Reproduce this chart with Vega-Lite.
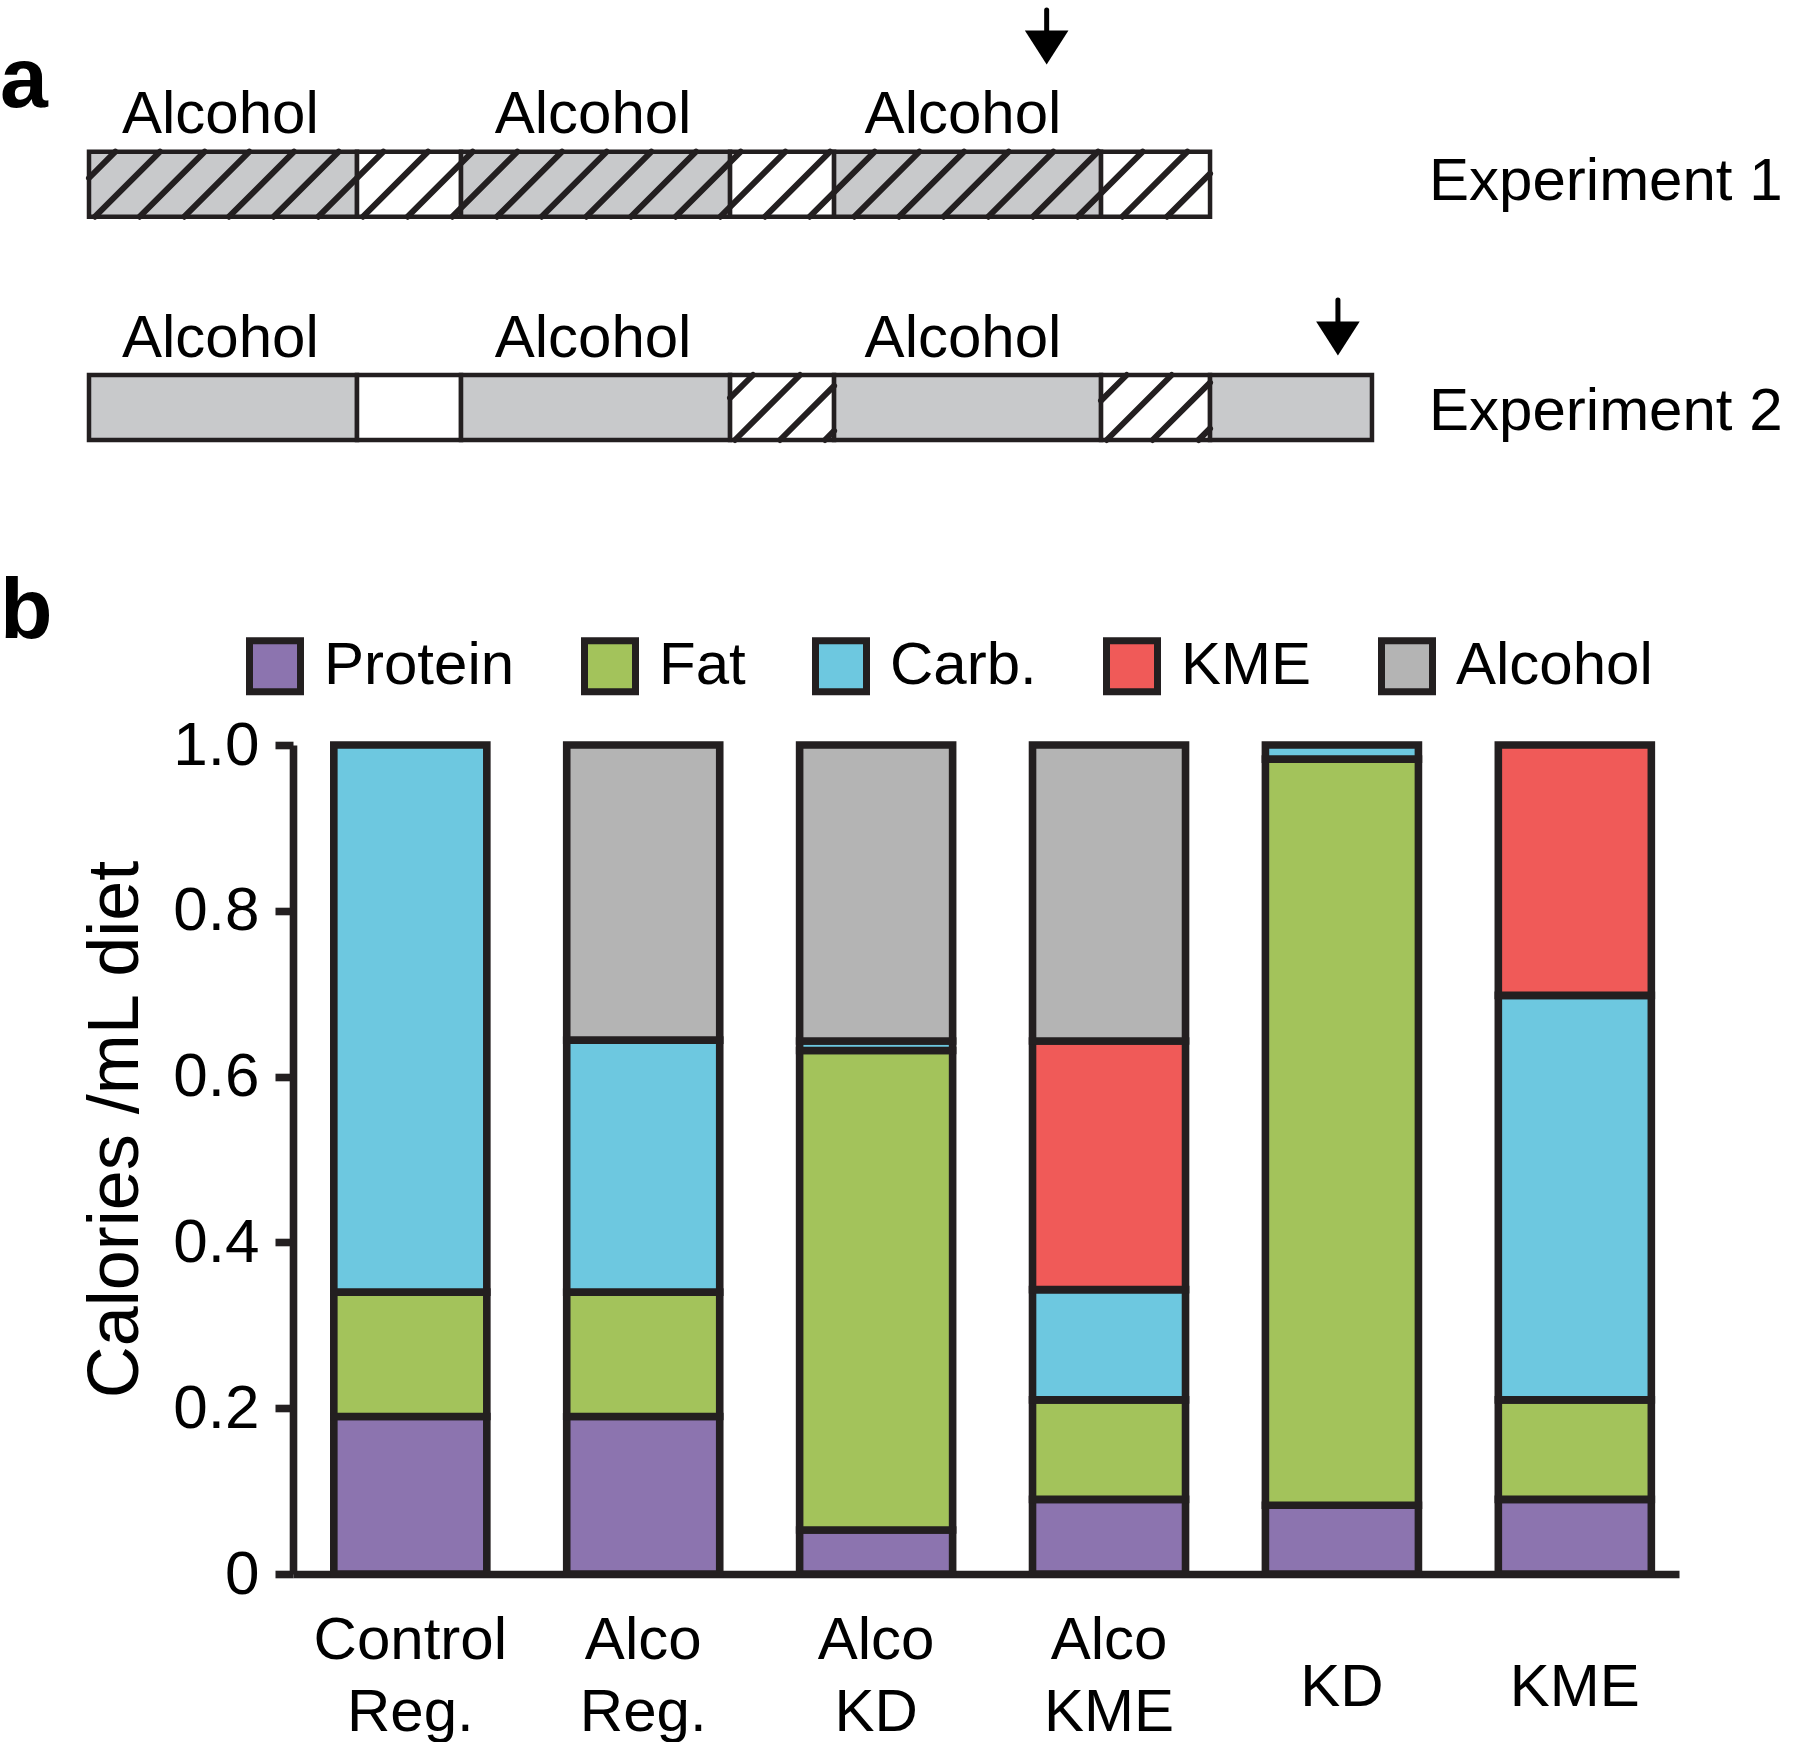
{
  "$schema": "https://vega.github.io/schema/vega-lite/v6.json",
  "padding": {"left": 0, "top": 0, "right": 0, "bottom": 0},
  "background": "white",
  "bounds": "flush",
  "spacing": 45,
  "resolve": {"scale": {"color": "independent"}, "legend": {"color": "independent"}},
  "config": {
    "font": "Liberation Sans",
    "view": {"stroke": null},
    "axis": {"labelFont": "Liberation Sans", "titleFont": "Liberation Sans"},
    "legend": {"labelFont": "Liberation Sans"},
    "text": {"font": "Liberation Sans"}
  },
  "datasets": {
    "segments": [
      {"exp": "Experiment 1", "phase": "alcohol", "start": 0, "end": 12.91, "lane_top": 1.517, "lane_bottom": 2.167},
      {"exp": "Experiment 1", "phase": "abstinence", "start": 12.91, "end": 17.92, "lane_top": 1.517, "lane_bottom": 2.167},
      {"exp": "Experiment 1", "phase": "alcohol", "start": 17.92, "end": 30.88, "lane_top": 1.517, "lane_bottom": 2.167},
      {"exp": "Experiment 1", "phase": "abstinence", "start": 30.88, "end": 35.89, "lane_top": 1.517, "lane_bottom": 2.167},
      {"exp": "Experiment 1", "phase": "alcohol", "start": 35.89, "end": 48.75, "lane_top": 1.517, "lane_bottom": 2.167},
      {"exp": "Experiment 1", "phase": "abstinence", "start": 48.75, "end": 54.0, "lane_top": 1.517, "lane_bottom": 2.167},
      {"exp": "Experiment 2", "phase": "alcohol", "start": 0, "end": 12.91, "lane_top": 3.75, "lane_bottom": 4.4},
      {"exp": "Experiment 2", "phase": "abstinence", "start": 12.91, "end": 17.92, "lane_top": 3.75, "lane_bottom": 4.4},
      {"exp": "Experiment 2", "phase": "alcohol", "start": 17.92, "end": 30.88, "lane_top": 3.75, "lane_bottom": 4.4},
      {"exp": "Experiment 2", "phase": "abstinence", "start": 30.88, "end": 35.89, "lane_top": 3.75, "lane_bottom": 4.4},
      {"exp": "Experiment 2", "phase": "alcohol", "start": 35.89, "end": 48.75, "lane_top": 3.75, "lane_bottom": 4.4},
      {"exp": "Experiment 2", "phase": "abstinence", "start": 48.75, "end": 54.0, "lane_top": 3.75, "lane_bottom": 4.4},
      {"exp": "Experiment 2", "phase": "alcohol", "start": 54.0, "end": 61.8, "lane_top": 3.75, "lane_bottom": 4.4}
    ],
    "hatch": [
      {"d0": 0, "l0": 1.78, "d1": 1.268, "l1": 1.517},
      {"d0": 0.289, "l0": 2.167, "d1": 3.42, "l1": 1.517},
      {"d0": 2.441, "l0": 2.167, "d1": 5.572, "l1": 1.517},
      {"d0": 4.592, "l0": 2.167, "d1": 7.723, "l1": 1.517},
      {"d0": 6.744, "l0": 2.167, "d1": 9.875, "l1": 1.517},
      {"d0": 8.896, "l0": 2.167, "d1": 12.027, "l1": 1.517},
      {"d0": 11.048, "l0": 2.167, "d1": 14.179, "l1": 1.517},
      {"d0": 13.199, "l0": 2.167, "d1": 16.33, "l1": 1.517},
      {"d0": 15.351, "l0": 2.167, "d1": 18.482, "l1": 1.517},
      {"d0": 17.503, "l0": 2.167, "d1": 20.634, "l1": 1.517},
      {"d0": 19.654, "l0": 2.167, "d1": 22.785, "l1": 1.517},
      {"d0": 21.806, "l0": 2.167, "d1": 24.937, "l1": 1.517},
      {"d0": 23.958, "l0": 2.167, "d1": 27.089, "l1": 1.517},
      {"d0": 26.109, "l0": 2.167, "d1": 29.24, "l1": 1.517},
      {"d0": 28.261, "l0": 2.167, "d1": 31.392, "l1": 1.517},
      {"d0": 30.413, "l0": 2.167, "d1": 33.544, "l1": 1.517},
      {"d0": 32.565, "l0": 2.167, "d1": 35.696, "l1": 1.517},
      {"d0": 34.716, "l0": 2.167, "d1": 37.847, "l1": 1.517},
      {"d0": 36.868, "l0": 2.167, "d1": 39.999, "l1": 1.517},
      {"d0": 39.02, "l0": 2.167, "d1": 42.151, "l1": 1.517},
      {"d0": 41.171, "l0": 2.167, "d1": 44.302, "l1": 1.517},
      {"d0": 43.323, "l0": 2.167, "d1": 46.454, "l1": 1.517},
      {"d0": 45.475, "l0": 2.167, "d1": 48.606, "l1": 1.517},
      {"d0": 47.626, "l0": 2.167, "d1": 50.757, "l1": 1.517},
      {"d0": 49.778, "l0": 2.167, "d1": 52.909, "l1": 1.517},
      {"d0": 51.93, "l0": 2.167, "d1": 54.0, "l1": 1.737},
      {"d0": 30.88, "l0": 3.979, "d1": 31.985, "l1": 3.75},
      {"d0": 31.118, "l0": 4.4, "d1": 34.249, "l1": 3.75},
      {"d0": 33.285, "l0": 4.4, "d1": 35.89, "l1": 3.859},
      {"d0": 35.453, "l0": 4.4, "d1": 35.89, "l1": 4.309},
      {"d0": 48.75, "l0": 4.007, "d1": 49.985, "l1": 3.75},
      {"d0": 49.022, "l0": 4.4, "d1": 52.153, "l1": 3.75},
      {"d0": 51.233, "l0": 4.4, "d1": 54.0, "l1": 3.826},
      {"d0": 53.444, "l0": 4.4, "d1": 54.0, "l1": 4.285}
    ],
    "alcoholLabels": [
      {"text": "Alcohol", "day": 6.33, "lane": 1.327},
      {"text": "Alcohol", "day": 24.28, "lane": 1.327},
      {"text": "Alcohol", "day": 42.1, "lane": 1.327},
      {"text": "Alcohol", "day": 6.33, "lane": 3.567},
      {"text": "Alcohol", "day": 24.28, "lane": 3.567},
      {"text": "Alcohol", "day": 42.1, "lane": 3.567}
    ],
    "expLabels": [
      {"text": "Experiment 1", "day": 64.55, "lane": 2.0},
      {"text": "Experiment 2", "day": 64.55, "lane": 4.3}
    ],
    "panelLetters": [
      {"text": "a", "day": -4.287, "lane": 1.07},
      {"text": "b", "day": -4.287, "lane": 6.38}
    ],
    "arrows": [
      {"exp": "Experiment 1", "day": 46.13, "shaft_top": 0.1, "shaft_bottom": 0.34, "head": 0.475},
      {"exp": "Experiment 2", "day": 60.16, "shaft_top": 3.0, "shaft_bottom": 3.25, "head": 3.385}
    ],
    "diet": [
      {"diet": "Control Reg.", "nutrient": "Protein", "rank": 1, "value": 0.19},
      {"diet": "Control Reg.", "nutrient": "Fat", "rank": 2, "value": 0.15},
      {"diet": "Control Reg.", "nutrient": "Carb.", "rank": 3, "value": 0.66},
      {"diet": "Alco Reg.", "nutrient": "Protein", "rank": 1, "value": 0.19},
      {"diet": "Alco Reg.", "nutrient": "Fat", "rank": 2, "value": 0.15},
      {"diet": "Alco Reg.", "nutrient": "Carb.", "rank": 3, "value": 0.304},
      {"diet": "Alco Reg.", "nutrient": "Alcohol", "rank": 5, "value": 0.356},
      {"diet": "Alco KD", "nutrient": "Protein", "rank": 1, "value": 0.053},
      {"diet": "Alco KD", "nutrient": "Fat", "rank": 2, "value": 0.5785},
      {"diet": "Alco KD", "nutrient": "Carb.", "rank": 3, "value": 0.0115},
      {"diet": "Alco KD", "nutrient": "Alcohol", "rank": 5, "value": 0.357},
      {"diet": "Alco KME", "nutrient": "Protein", "rank": 1, "value": 0.09},
      {"diet": "Alco KME", "nutrient": "Fat", "rank": 2, "value": 0.12},
      {"diet": "Alco KME", "nutrient": "Carb.", "rank": 3, "value": 0.133},
      {"diet": "Alco KME", "nutrient": "KME", "rank": 4, "value": 0.3},
      {"diet": "Alco KME", "nutrient": "Alcohol", "rank": 5, "value": 0.357},
      {"diet": "KD", "nutrient": "Protein", "rank": 1, "value": 0.083},
      {"diet": "KD", "nutrient": "Fat", "rank": 2, "value": 0.9},
      {"diet": "KD", "nutrient": "Carb.", "rank": 3, "value": 0.017},
      {"diet": "KME", "nutrient": "Protein", "rank": 1, "value": 0.09},
      {"diet": "KME", "nutrient": "Fat", "rank": 2, "value": 0.12},
      {"diet": "KME", "nutrient": "Carb.", "rank": 3, "value": 0.488},
      {"diet": "KME", "nutrient": "KME", "rank": 4, "value": 0.302}
    ]
  },
  "vconcat": [
    {
      "width": 1507,
      "height": 700,
      "layer": [
        {
          "data": {"name": "segments"},
          "mark": {"type": "rect", "stroke": "#231f20", "strokeWidth": 4.5},
          "encoding": {
            "x": {"field": "start", "type": "quantitative", "scale": {"domain": [9.8266, 82.418], "zero": false, "nice": false}, "axis": null},
            "x2": {"field": "end"},
            "y": {"field": "lane_top", "type": "quantitative", "scale": {"domain": [0, 7], "reverse": true, "zero": false, "nice": false}, "axis": null},
            "y2": {"field": "lane_bottom"},
            "fill": {"field": "phase", "type": "nominal", "scale": {"domain": ["alcohol", "abstinence"], "range": ["#c8c9cb", "#ffffff"]}, "legend": null}
          }
        },
        {
          "data": {"name": "hatch"},
          "mark": {"type": "rule", "stroke": "#231f20", "strokeWidth": 6, "strokeCap": "round"},
          "encoding": {
            "x": {"field": "d0", "type": "quantitative", "scale": {"domain": [9.8266, 82.418], "zero": false, "nice": false}, "axis": null},
            "x2": {"field": "d1"},
            "y": {"field": "l0", "type": "quantitative", "scale": {"domain": [0, 7], "reverse": true, "zero": false, "nice": false}, "axis": null},
            "y2": {"field": "l1"}
          }
        },
        {
          "data": {"name": "alcoholLabels"},
          "mark": {"type": "text", "fontSize": 60, "align": "center", "baseline": "alphabetic", "color": "#000000"},
          "encoding": {
            "x": {"field": "day", "type": "quantitative", "scale": {"domain": [9.8266, 82.418], "zero": false, "nice": false}, "axis": null},
            "y": {"field": "lane", "type": "quantitative", "scale": {"domain": [0, 7], "reverse": true, "zero": false, "nice": false}, "axis": null},
            "text": {"field": "text"}
          }
        },
        {
          "data": {"name": "expLabels"},
          "mark": {"type": "text", "fontSize": 60, "align": "left", "baseline": "alphabetic", "color": "#000000"},
          "encoding": {
            "x": {"field": "day", "type": "quantitative", "scale": {"domain": [9.8266, 82.418], "zero": false, "nice": false}, "axis": null},
            "y": {"field": "lane", "type": "quantitative", "scale": {"domain": [0, 7], "reverse": true, "zero": false, "nice": false}, "axis": null},
            "text": {"field": "text"}
          }
        },
        {
          "data": {"name": "panelLetters"},
          "mark": {"type": "text", "fontSize": 86, "fontWeight": "bold", "align": "left", "baseline": "alphabetic", "color": "#000000"},
          "encoding": {
            "x": {"field": "day", "type": "quantitative", "scale": {"domain": [9.8266, 82.418], "zero": false, "nice": false}, "axis": null},
            "y": {"field": "lane", "type": "quantitative", "scale": {"domain": [0, 7], "reverse": true, "zero": false, "nice": false}, "axis": null},
            "text": {"field": "text"}
          }
        },
        {
          "data": {"name": "arrows"},
          "mark": {"type": "rule", "stroke": "#000000", "strokeWidth": 5, "strokeCap": "round"},
          "encoding": {
            "x": {"field": "day", "type": "quantitative", "scale": {"domain": [9.8266, 82.418], "zero": false, "nice": false}, "axis": null},
            "y": {"field": "shaft_top", "type": "quantitative", "scale": {"domain": [0, 7], "reverse": true, "zero": false, "nice": false}, "axis": null},
            "y2": {"field": "shaft_bottom"}
          }
        },
        {
          "data": {"name": "arrows"},
          "mark": {"type": "point", "shape": "M-1,-0.775L1,-0.775L0,0.775Z", "size": 1900, "filled": true, "fill": "#000000", "opacity": 1, "strokeWidth": 0},
          "encoding": {
            "x": {"field": "day", "type": "quantitative", "scale": {"domain": [9.8266, 82.418], "zero": false, "nice": false}, "axis": null},
            "y": {"field": "head", "type": "quantitative", "scale": {"domain": [0, 7], "reverse": true, "zero": false, "nice": false}, "axis": null}
          }
        }
      ]
    },
    {
      "width": 1386,
      "height": 829,
      "data": {"name": "diet"},
      "mark": {"type": "bar", "stroke": "#231f20", "strokeWidth": 7.6},
      "encoding": {
        "x": {
          "field": "diet",
          "type": "nominal",
          "sort": ["Control Reg.", "Alco Reg.", "Alco KD", "Alco KME", "KD", "KME"],
          "scale": {"paddingInner": 0.343, "paddingOuter": 0.147, "align": 0.596},
          "axis": {
            "title": null,
            "labelExpr": "split(datum.label, ' ')",
            "labelAngle": 0,
            "labelFontSize": 60,
            "labelLineHeight": 72,
            "labelBaseline": "middle",
            "labelPadding": {"condition": {"test": "indexof(datum.label, ' ') < 0", "value": 113}, "value": 66},
            "labelLimit": 500,
            "labelColor": "#000000",
            "ticks": false,
            "domainColor": "#231f20",
            "domainWidth": 7.6
          }
        },
        "y": {
          "field": "value",
          "type": "quantitative",
          "stack": "zero",
          "scale": {"domain": [0, 1], "nice": false},
          "axis": {
            "title": "Calories /mL diet",
            "values": [0, 0.2, 0.4, 0.6, 0.8, 1],
            "labelExpr": "datum.value === 0 ? '0' : format(datum.value, '.1f')",
            "grid": false,
            "domainColor": "#231f20",
            "domainWidth": 7.6,
            "tickColor": "#231f20",
            "tickWidth": 7.6,
            "tickSize": 18,
            "labelFontSize": 62,
            "labelPadding": 16,
            "labelColor": "#000000",
            "titleFontSize": 72,
            "titleFontWeight": "normal",
            "titleColor": "#000000",
            "titleAngle": 270,
            "titleX": -156,
            "titleY": 384,
            "titleAlign": "center",
            "titleBaseline": "alphabetic"
          }
        },
        "color": {
          "field": "nutrient",
          "type": "nominal",
          "scale": {
            "domain": ["Protein", "Fat", "Carb.", "KME", "Alcohol"],
            "range": ["#8c74af", "#a3c35b", "#6dc8e0", "#f05a58", "#b4b4b4"]
          },
          "legend": {
            "orient": "none",
            "legendX": -48,
            "legendY": -109,
            "direction": "horizontal",
            "title": null,
            "symbolType": "square",
            "symbolSize": 2601,
            "symbolStrokeWidth": 7,
            "symbolStrokeColor": "#231f20",
            "symbolOpacity": 1,
            "labelFontSize": 60,
            "labelOffset": 19,
            "columnPadding": 55,
            "labelColor": "#000000",
            "labelLimit": 400
          }
        },
        "order": {"field": "rank", "type": "quantitative"}
      }
    }
  ]
}
